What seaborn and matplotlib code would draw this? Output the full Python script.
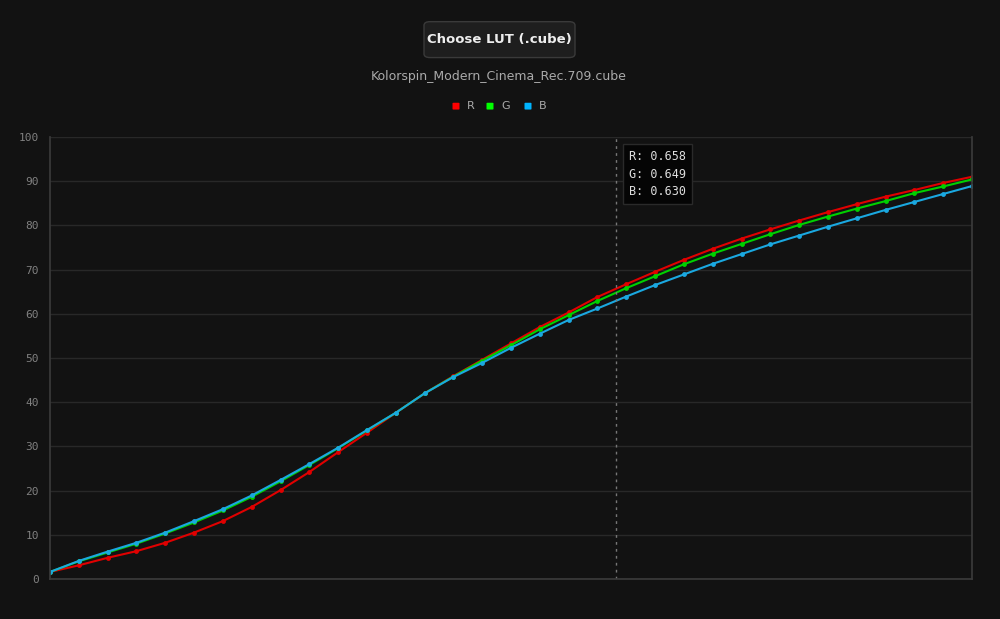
import numpy as np
import pandas as pd
import seaborn as sns
import matplotlib.pyplot as plt
from matplotlib.patches import FancyBboxPatch

# LUT curve samples (33 points), in percent
red = [1.6, 3.1, 4.8, 6.3, 8.2, 10.5, 13.1, 16.3, 20.1, 24.2, 28.7, 33.1, 37.6,
       42.0, 45.9, 49.6, 53.3, 57.0, 60.3, 63.8, 66.7, 69.5, 72.2, 74.7, 77.0,
       79.1, 81.1, 83.0, 84.8, 86.5, 88.0, 89.6, 91.0]
green = [1.6, 4.0, 6.0, 8.0, 10.3, 12.8, 15.5, 18.6, 22.1, 25.8, 29.6, 33.6, 37.6,
         42.0, 45.8, 49.4, 52.9, 56.5, 59.7, 62.9, 65.8, 68.5, 71.2, 73.6, 75.8,
         78.0, 80.1, 82.0, 83.8, 85.5, 87.3, 88.8, 90.4]
blue = [1.6, 4.1, 6.2, 8.2, 10.5, 13.1, 15.8, 18.9, 22.4, 26.0, 29.7, 33.7, 37.6,
        42.0, 45.7, 48.9, 52.3, 55.5, 58.6, 61.2, 63.9, 66.5, 68.9, 71.3, 73.5,
        75.7, 77.7, 79.7, 81.6, 83.5, 85.3, 87.1, 88.9]
channels = ["R", "G", "B"]
colors = {"R": "#ff0000", "G": "#00ff00", "B": "#00b4ff"}
line_colors = {"R": "#e00000", "G": "#00d000", "B": "#1aa8e0"}
hover_index = 19.65
tooltip = ["R: 0.658", "G: 0.649", "B: 0.630"]
filename = "Kolorspin_Modern_Cinema_Rec.709.cube"

idx = np.arange(len(red))
df = pd.concat([pd.DataFrame({"i": idx, "v": vals, "ch": ch})
                for ch, vals in zip(channels, [red, green, blue])])

sns.set_theme(style="dark")
bg = "#121212"
fig = plt.figure(figsize=(10, 6.19), dpi=100, facecolor=bg)
ax = fig.add_axes([0.05, 0.0646, 0.922, 0.7141], facecolor=bg)

sns.lineplot(data=df, x="i", y="v", hue="ch", palette=line_colors, marker="o",
             markersize=3.5, markeredgewidth=0, linewidth=1.5, legend=False, ax=ax)

ax.set_xlim(0, len(red) - 1)
ax.set_ylim(0, 100)
ax.set_yticks(range(0, 101, 10))
ax.set_xticks([])
ax.set_xlabel("")
ax.set_ylabel("")
ax.grid(axis="y", color="#282828", linewidth=1)
ax.set_axisbelow(True)
for s in ["left", "bottom", "right"]:
    ax.spines[s].set_visible(True)
    ax.spines[s].set_color("#3a3a3a")
ax.spines["top"].set_visible(False)
ax.tick_params(axis="y", colors="#808080", labelsize=8, length=0, pad=8)
for t in ax.get_yticklabels():
    t.set_family("DejaVu Sans Mono")

ax.axvline(hover_index, color="#777777", linestyle=(0, (2, 3)), linewidth=1)
ax.text(hover_index + 0.45, 97, "\n".join(tooltip), family="DejaVu Sans Mono",
        fontsize=8.5, color="#dddddd", va="top", ha="left", linespacing=1.45,
        bbox=dict(boxstyle="square,pad=0.5", fc="#050505", ec="#2a2a2a"))

# header: button, filename, legend
fig.patches.append(FancyBboxPatch((0.424, 0.907), 0.151, 0.058, transform=fig.transFigure,
                                  boxstyle="round,pad=0,rounding_size=0.006",
                                  fc="#1e1e1e", ec="#3a3a3a", lw=1))
fig.text(0.499, 0.936, "Choose LUT (.cube)", ha="center", va="center",
         color="#eeeeee", fontsize=9.5, fontweight="bold")
fig.text(0.499, 0.877, filename, ha="center", va="center", color="#aaaaaa", fontsize=9)
for ch, x in zip(channels, [0.456, 0.49, 0.528]):
    fig.patches.append(FancyBboxPatch((x - 0.0035, 0.823), 0.007, 0.011,
                                      transform=fig.transFigure,
                                      boxstyle="round,pad=0,rounding_size=0.001",
                                      fc=colors[ch], ec="none"))
    fig.text(x + 0.011, 0.829, ch, ha="left", va="center", color="#aaaaaa", fontsize=8)

fig.savefig("out.png", dpi=100, facecolor=bg)
